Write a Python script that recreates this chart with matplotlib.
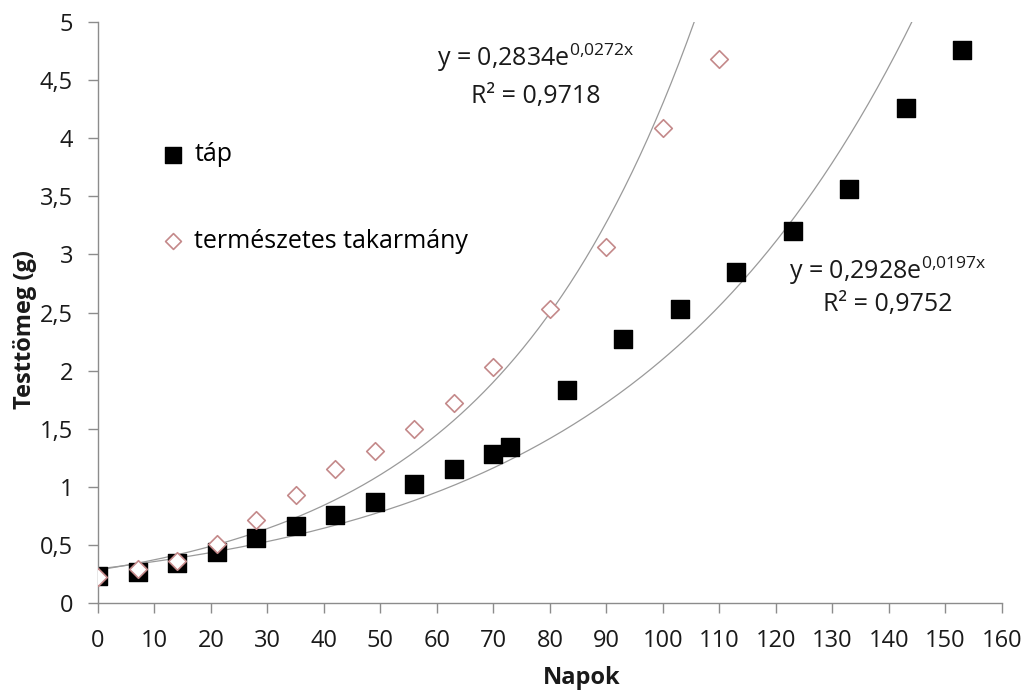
import numpy as np
import matplotlib
matplotlib.use("Agg")
import matplotlib.pyplot as plt
from matplotlib.ticker import FuncFormatter, MultipleLocator

plt.rcParams['font.family'] = ['Open Sans', 'DejaVu Sans']

# Body weight (g) by day
tap_days = [0, 7, 14, 21, 28, 35, 42, 49, 56, 63, 70, 73, 83, 93, 103, 113, 123, 133, 143, 153]
tap_mass = [0.23, 0.27, 0.34, 0.44, 0.56, 0.66, 0.76, 0.87, 1.02, 1.15, 1.28, 1.34, 1.83, 2.27,
            2.53, 2.85, 3.20, 3.56, 4.26, 4.76]

nat_days = [0, 7, 14, 21, 28, 35, 42, 49, 56, 63, 70, 80, 90, 100, 110]
nat_mass = [0.22, 0.29, 0.36, 0.51, 0.71, 0.93, 1.15, 1.31, 1.50, 1.72, 2.03, 2.53, 3.06, 4.09, 4.68]

# Exponential trendline parameters y = a * e^(b x), with R²
tap_fit = (0.2928, 0.0197, 0.9752)
nat_fit = (0.2834, 0.0272, 0.9718)

x_ticks = list(range(0, 161, 10))

fig = plt.figure(figsize=(10.26, 6.91), dpi=100)
ax = fig.add_axes([0.0955, 0.1274, 0.881, 0.8406])

axis_col = '#8c8c8c'
trend_col = '#9a9a9a'
dia_col = '#c4898a'
text_col = '#1a1a1a'

def trend(fit, xmax):
    a, b, _ = fit
    xs = np.linspace(0, xmax, 400)
    return xs, a * np.exp(b * xs)

xs, ys = trend(nat_fit, 110)
ax.plot(xs, ys, color=trend_col, lw=0.9, zorder=1)
xs, ys = trend(tap_fit, 160)
ax.plot(xs, ys, color=trend_col, lw=0.9, zorder=1)

ax.scatter(tap_days, tap_mass, marker='s', s=150, color='black', zorder=2, label='táp')
ax.scatter(nat_days, nat_mass, marker='D', s=80, facecolor='white', edgecolor=dia_col,
           linewidth=1.2, zorder=3, label='természetes takarmány')

ax.set_xlim(0, 160)
ax.set_ylim(0, 5)
ax.set_xticks(x_ticks)
ax.yaxis.set_major_locator(MultipleLocator(0.5))
fmt = FuncFormatter(lambda v, p: (f"{v:g}").replace('.', ','))
ax.yaxis.set_major_formatter(fmt)
ax.xaxis.set_major_formatter(fmt)

for s in ('top', 'right'):
    ax.spines[s].set_visible(False)
for s in ('left', 'bottom'):
    ax.spines[s].set_color(axis_col)
    ax.spines[s].set_linewidth(1.0)
ax.tick_params(axis='both', direction='out', length=7, width=1, color=axis_col,
               labelsize=17, labelcolor=text_col)
ax.tick_params(axis='x', pad=12)
ax.tick_params(axis='y', pad=11)

ax.set_xlabel('Napok', fontsize=17, fontweight='bold', color=text_col)
ax.set_ylabel('Testtömeg (g)', fontsize=17, fontweight='bold', color=text_col)
ax.xaxis.set_label_coords(0.535, -0.129)
ax.xaxis.label.set_va('center')
ax.yaxis.set_label_coords(-0.081, 0.47)
ax.yaxis.label.set_va('center')

ax.legend(loc='upper left', bbox_to_anchor=(0.058, 0.81), frameon=False, fontsize=18,
          labelspacing=2.45, handletextpad=0.35, borderaxespad=0, handlelength=1.0,
          markerscale=0.9)

def eq_label(fit, x, y, gap):
    a, b, r2 = fit
    a_s = f"{a:.4f}".replace('.', ',')
    b_s = f"{b:.4f}".replace('.', '{,}')
    r_s = f"{r2:.4f}".replace('.', ',')
    ax.text(x, y, f"y = {a_s}e" + r"$^{\mathregular{" + b_s + "x}}$", fontsize=18,
            ha='center', va='baseline', color=text_col)
    ax.text(x, y - gap, f"R² = {r_s}", fontsize=18, ha='center', va='baseline', color=text_col)

eq_label(nat_fit, 77.5, 4.62, 0.32)
eq_label(tap_fit, 139.8, 2.79, 0.28)

fig.savefig('out.png', dpi=100)
